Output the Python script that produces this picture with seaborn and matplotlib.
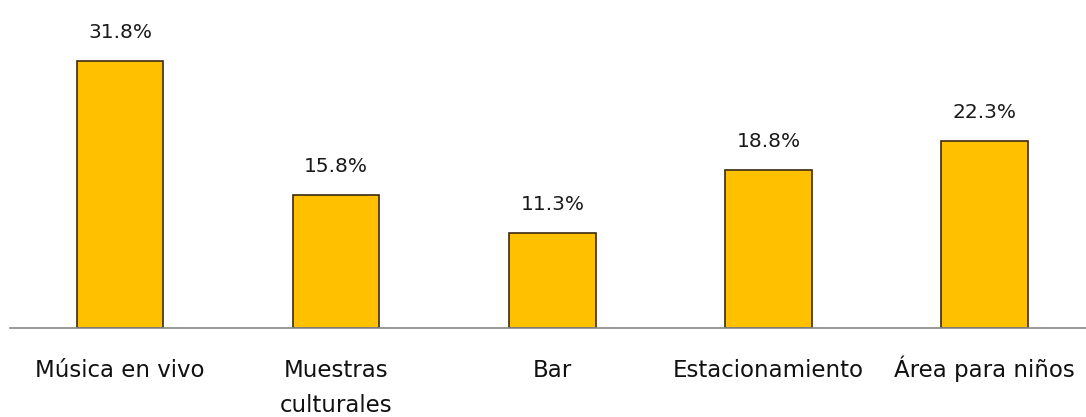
import matplotlib
matplotlib.use("Agg")
import matplotlib.pyplot as plt
import seaborn as sns
import pandas as pd

categories = ["Música en vivo", "Muestras\nculturales", "Bar", "Estacionamiento", "Área para niños"]
values = [31.8, 15.8, 11.3, 18.8, 22.3]
value_labels = ["31.8%", "15.8%", "11.3%", "18.8%", "22.3%"]

sns.set_theme(style="white")
plt.rcParams["font.family"] = ["DejaVu Sans"]

df = pd.DataFrame({"categoria": categories, "porcentaje": values})

fig = plt.figure(figsize=(10.86, 4.17), dpi=100)
ax = fig.add_axes([10 / 1086, 1 - 328 / 417, 1076 / 1086, 328 / 417])

sns.barplot(data=df, x="categoria", y="porcentaje", color="#FFC000",
            width=0.4, edgecolor="#3b2a12", linewidth=1.2, saturation=1, ax=ax)

# value labels above each bar
for i, (v, lab) in enumerate(zip(values, value_labels)):
    ax.annotate(lab, (i, v), xytext=(0, 23), textcoords="offset pixels",
                ha="center", va="baseline", fontsize=14.5, color="#1a1a1a")

# category names under the axis, one baseline per line
ax.set_xticklabels([])
for i, name in enumerate(categories):
    for j, line in enumerate(name.split("\n")):
        ax.annotate(line, (i, 0), xytext=(0, -49 - 35 * j), textcoords="offset pixels",
                    ha="center", va="baseline", fontsize=16.5, color="#111111",
                    annotation_clip=False)

ax.set_xlim(-0.51, 4.47)
ax.set_ylim(0, 39.05)
ax.set_xlabel("")
ax.set_ylabel("")
ax.set_yticks([])
for s in ["top", "right", "left"]:
    ax.spines[s].set_visible(False)
ax.spines["bottom"].set_color("#888888")
ax.spines["bottom"].set_linewidth(1.2)
ax.tick_params(axis="x", length=0)

fig.savefig("out.png", dpi=100, facecolor="white")
